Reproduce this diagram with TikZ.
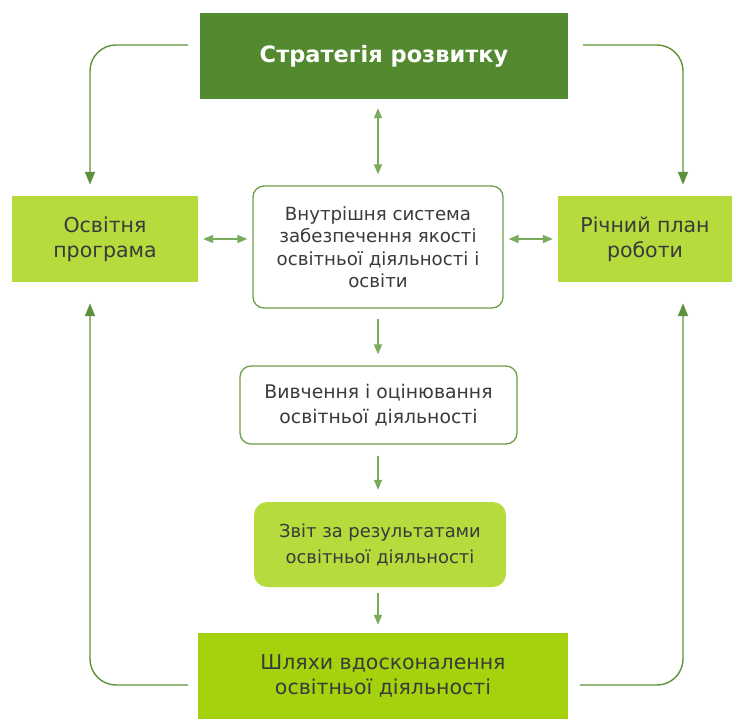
\documentclass[tikz,border=0pt]{standalone}
\usepackage{fontspec}
\setmainfont{DejaVu Sans}
\usetikzlibrary{arrows.meta,calc}
\definecolor{dkgreen}{HTML}{548A2F}
\definecolor{limebox}{HTML}{B5DB3D}
\definecolor{limedeep}{HTML}{A4D30E}
\definecolor{edgegreen}{HTML}{6E9F4A}
\definecolor{arrgreen}{HTML}{7AAA5C}
\definecolor{loopgreen}{HTML}{5E9139}
\definecolor{txtgray}{HTML}{3A3A3A}
\tikzset{
  base/.style={align=center, inner sep=0pt, text=txtgray},
  flatbox/.style={base, fill=limebox, minimum height=86pt, font=\fontsize{20.5}{25}\selectfont},
  roundbox/.style={base, draw=edgegreen, line width=1.3pt, rounded corners=11pt, fill=white, font=\fontsize{18.2}{22.5}\selectfont},
  loopline/.style={draw=loopgreen, line width=1.4pt, rounded corners=26pt, -{Triangle[length=13pt,width=10pt]}},
  smallarr/.style={draw=arrgreen, line width=1.4pt, -{Triangle[length=10pt,width=8pt]}},
  dblarr/.style={draw=arrgreen, line width=1.4pt, {Triangle[length=10pt,width=8pt]}-{Triangle[length=10pt,width=8pt]}}
}
\begin{document}
\begin{tikzpicture}[x=1pt,y=-1pt]
\useasboundingbox (0,0) rectangle (734,719);

\node[base, fill=dkgreen, text=white, minimum width=368pt, minimum height=86pt, font=\fontsize{22.5}{26}\selectfont\bfseries] (top) at (384,56) {Стратегія розвитку};
\node[flatbox, minimum width=186pt] (left) at (105,239) {Освітня\\програма};
\node[flatbox, minimum width=174pt] (right) at (645,239) {Річний план\\роботи};
\node[roundbox, minimum width=250pt, minimum height=122pt] (center) at (378,247) {Внутрішня система\\забезпечення якості\\освітньої діяльності і\\освіти};
\node[roundbox, minimum width=277pt, minimum height=78pt, font=\fontsize{18.8}{25}\selectfont] (viv) at (378.5,405) {Вивчення і оцінювання\\освітньої діяльності};
\node[base, fill=limebox, rounded corners=13pt, minimum width=252pt, minimum height=85pt, font=\fontsize{17.9}{26}\selectfont] (zvit) at (380,544.5) {Звіт за результатами\\освітньої діяльності};
\node[base, fill=limedeep, minimum width=370pt, minimum height=86pt, font=\fontsize{20.5}{25}\selectfont] (bottom) at (383,676) {Шляхи вдосконалення\\освітньої діяльності};

% loops
\draw[loopline] ($(top.west)+(-12,-11)$) -| ($(left.north)+(-15,-11)$);
\draw[loopline] ($(top.east)+(15,-11)$) -| ($(right.north)+(38,-11)$);
\draw[loopline] ($(bottom.west)+(-10,9)$) -| ($(left.south)+(-15,21)$);
\draw[loopline] ($(bottom.east)+(12,9)$) -| ($(right.south)+(38,21)$);

% central arrows
\draw[dblarr, shorten <=9pt, shorten >=11pt] (top.south -| center.north) -- (center.north);
\draw[dblarr, shorten <=5pt, shorten >=5pt] (left.east) -- (left.east -| center.west);
\draw[dblarr, shorten <=5pt, shorten >=5pt] (right.west -| center.east) -- (right.west);
\draw[smallarr, shorten <=10pt, shorten >=11pt] (center.south) -- (center.south |- viv.north);
\draw[smallarr, shorten <=11pt, shorten >=12pt] (center.south |- viv.south) -- (center.south |- zvit.north);
\draw[smallarr, shorten <=6pt, shorten >=8pt] (center.south |- zvit.south) -- (center.south |- bottom.north);
\end{tikzpicture}
\end{document}
